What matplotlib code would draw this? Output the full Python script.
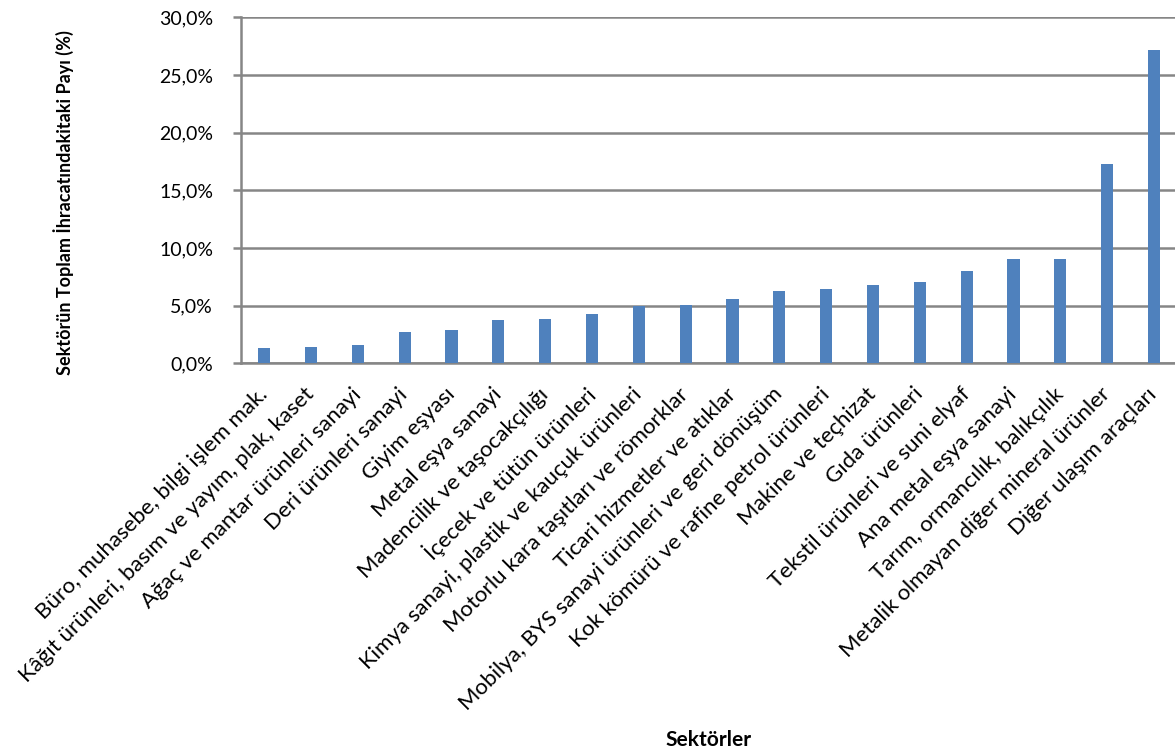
import matplotlib.pyplot as plt
from matplotlib.ticker import FuncFormatter

plt.rcParams['font.family'] = ['Lato', 'DejaVu Sans']

sectors = [
    "Büro, muhasebe, bilgi işlem mak.",
    "Kâğıt ürünleri, basım ve yayım, plak, kaset",
    "Ağaç ve mantar ürünleri sanayi",
    "Deri ürünleri sanayi",
    "Giyim eşyası",
    "Metal eşya sanayi",
    "Madencilik ve taşocakçılığı",
    "İçecek ve tütün ürünleri",
    "Kimya sanayi, plastik ve kauçuk ürünleri",
    "Motorlu kara taşıtları ve römorklar",
    "Ticari hizmetler ve atıklar",
    "Mobilya, BYS sanayi ürünleri ve geri dönüşüm",
    "Kok kömürü ve rafine petrol ürünleri",
    "Makine ve teçhizat",
    "Gıda ürünleri",
    "Tekstil ürünleri ve suni elyaf",
    "Ana metal eşya sanayi",
    "Tarım, ormancılık, balıkçılık",
    "Metalik olmayan diğer mineral ürünler",
    "Diğer ulaşım araçları",
]
shares = [1.30, 1.44, 1.56, 2.74, 2.89, 3.76, 3.84, 4.28, 4.94, 5.08,
          5.55, 6.30, 6.44, 6.79, 7.02, 8.00, 9.02, 9.05, 17.26, 27.2]

fig = plt.figure(figsize=(11.75, 7.53), dpi=100)
ax = fig.add_axes([0.205, 0.5175, 0.797, 0.4595])

x = range(len(sectors))
ax.bar(x, shares, width=0.26, color="#4F81BD", zorder=3)

ax.set_ylim(0, 30)
ax.set_xlim(-0.5, len(sectors) - 0.5)
ax.set_yticks(range(0, 31, 5))
ax.yaxis.set_major_formatter(FuncFormatter(lambda v, p: f"{v:.1f}%".replace(".", ",")))
ax.grid(axis="y", color="#868686", linewidth=1.8, zorder=0)
ax.set_axisbelow(True)

for side in ["top", "right"]:
    ax.spines[side].set_visible(False)
ax.spines["left"].set_color("#868686")
ax.spines["left"].set_linewidth(1.8)
ax.spines["bottom"].set_color("#868686")
ax.spines["bottom"].set_linewidth(1.8)

ax.tick_params(axis="y", length=6, width=1.8, color="#868686", labelsize=14, pad=14)
ax.tick_params(axis="x", length=0, pad=20)
ax.set_xticks(list(x))
ax.set_xticklabels(sectors, rotation=45, ha="right", va="center",
                   rotation_mode="anchor", fontsize=16)

# axis titles placed like the original
fig.text(64 / 1175, 1 - 203 / 753, "Sektörün Toplam İhracatındakitaki Payı (%)",
         rotation=90, ha="center", va="center", fontsize=13, fontweight="bold")
fig.text(709 / 1175, 1 - 740 / 753, "Sektörler", ha="center", va="center",
         fontsize=15, fontweight="bold")

fig.savefig("out.png", dpi=100)
